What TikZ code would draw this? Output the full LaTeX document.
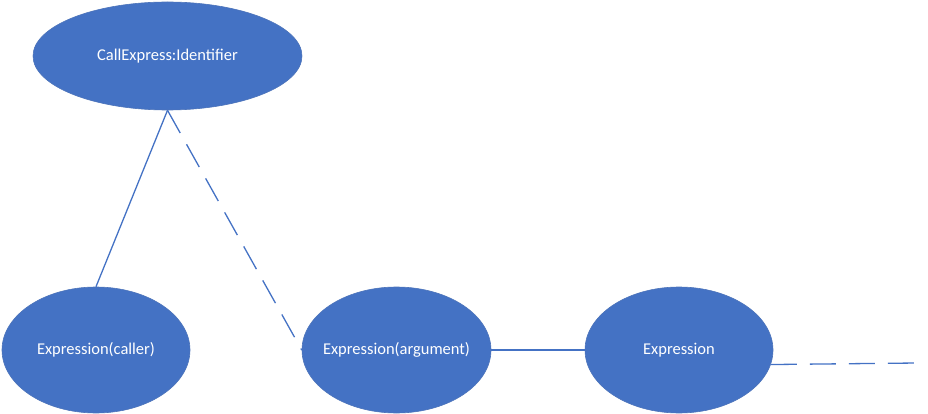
\documentclass[tikz,border=0pt]{standalone}
\usepackage{fontspec}
\setmainfont{Carlito}
\usetikzlibrary{shapes.geometric}
\definecolor{nodeblue}{HTML}{4472C4}
\begin{document}
\begin{tikzpicture}[x=1pt, y=-1pt,
		astnode/.style={ellipse, fill=nodeblue, draw=nodeblue!85!gray, line width=0.6pt, inner sep=0pt, text=white, font=\fontsize{16.5}{19}\selectfont},
		edge/.style={draw=nodeblue, line width=1.3pt},
		longdash/.style={dash pattern=on 26pt off 13pt}]
		
		\useasboundingbox (0,0) rectangle (928,414);
		
		% Root: the call expression
		\node[astnode, minimum width=269pt, minimum height=108pt] (call) at (167.5,56) {\makebox[0pt]{CallExpress:Identifier}};
		
		% Row 2: caller, argument, next expression
		\node[astnode, minimum width=188pt, minimum height=126pt] (caller) at (96,350) {\makebox[0pt]{Expression(caller)}};
		\node[astnode, minimum width=189pt, minimum height=126pt] (arg) at (396.5,350) {\makebox[0pt]{Expression(argument)}};
		\node[astnode, minimum width=188pt, minimum height=126pt] (expr) at (679,350) {\makebox[0pt]{Expression}};
		\coordinate (tail) at (917,363);
		
		% Edges
		\draw[edge] (call.south) -- (caller.north);
		\draw[edge, longdash] (call.south) -- (arg.west);
		\draw[edge] (arg.east) -- (expr.west);
		\draw[edge, longdash] (expr.-9) -- (tail);
		
	\end{tikzpicture}
\end{document}
